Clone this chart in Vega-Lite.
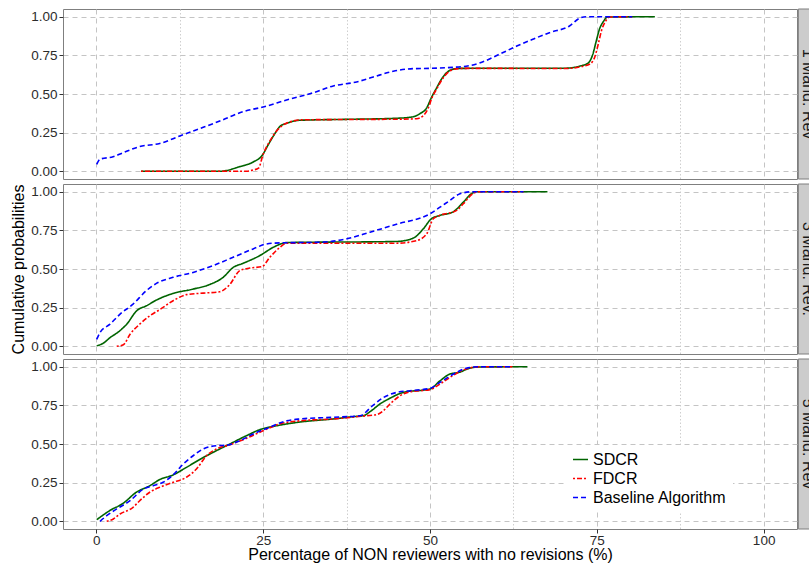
{
  "$schema": "https://vega.github.io/schema/vega-lite/v6.json",
  "padding": {"left": 10, "top": 8, "right": 0, "bottom": 0},
  "background": "white",
  "config": {
    "font": "Liberation Sans",
    "view": {"stroke": "#7F7F7F", "strokeWidth": 1},
    "axis": {"labelFont": "Liberation Sans", "titleFont": "Liberation Sans", "titleFontWeight": "normal", "labelColor": "#2b2b2b", "titleColor": "#000000"}
  },
  "spacing": 3,
  "data": {"values": [
    {"p":"1","m":"SDCR","x":6.7,"y":0},{"p":"1","m":"SDCR","x":18.5,"y":0},{"p":"1","m":"SDCR","x":21.5,"y":0.03},{"p":"1","m":"SDCR","x":23.5,"y":0.06},{"p":"1","m":"SDCR","x":24.8,"y":0.10},{"p":"1","m":"SDCR","x":25.8,"y":0.175},{"p":"1","m":"SDCR","x":26.7,"y":0.24},{"p":"1","m":"SDCR","x":27.5,"y":0.29},{"p":"1","m":"SDCR","x":28.5,"y":0.31},{"p":"1","m":"SDCR","x":30.5,"y":0.33},{"p":"1","m":"SDCR","x":37.5,"y":0.336},{"p":"1","m":"SDCR","x":45,"y":0.343},{"p":"1","m":"SDCR","x":47.5,"y":0.353},{"p":"1","m":"SDCR","x":48.5,"y":0.373},{"p":"1","m":"SDCR","x":49.5,"y":0.41},{"p":"1","m":"SDCR","x":50.2,"y":0.476},{"p":"1","m":"SDCR","x":51,"y":0.54},{"p":"1","m":"SDCR","x":51.7,"y":0.595},{"p":"1","m":"SDCR","x":52.5,"y":0.638},{"p":"1","m":"SDCR","x":53.4,"y":0.66},{"p":"1","m":"SDCR","x":54.4,"y":0.666},{"p":"1","m":"SDCR","x":70.4,"y":0.667},{"p":"1","m":"SDCR","x":72.4,"y":0.68},{"p":"1","m":"SDCR","x":73.7,"y":0.70},{"p":"1","m":"SDCR","x":74.4,"y":0.757},{"p":"1","m":"SDCR","x":74.9,"y":0.84},{"p":"1","m":"SDCR","x":75.4,"y":0.92},{"p":"1","m":"SDCR","x":76,"y":0.97},{"p":"1","m":"SDCR","x":76.6,"y":0.998},{"p":"1","m":"SDCR","x":83.7,"y":1.0},
    {"p":"1","m":"FDCR","x":6.7,"y":0},{"p":"1","m":"FDCR","x":22.5,"y":0},{"p":"1","m":"FDCR","x":23.5,"y":0.008},{"p":"1","m":"FDCR","x":24.3,"y":0.02},{"p":"1","m":"FDCR","x":25,"y":0.11},{"p":"1","m":"FDCR","x":26,"y":0.196},{"p":"1","m":"FDCR","x":27,"y":0.26},{"p":"1","m":"FDCR","x":28,"y":0.30},{"p":"1","m":"FDCR","x":29.5,"y":0.325},{"p":"1","m":"FDCR","x":31,"y":0.333},{"p":"1","m":"FDCR","x":37.5,"y":0.335},{"p":"1","m":"FDCR","x":45,"y":0.337},{"p":"1","m":"FDCR","x":48,"y":0.34},{"p":"1","m":"FDCR","x":49,"y":0.36},{"p":"1","m":"FDCR","x":49.7,"y":0.405},{"p":"1","m":"FDCR","x":50.3,"y":0.476},{"p":"1","m":"FDCR","x":51.1,"y":0.54},{"p":"1","m":"FDCR","x":51.9,"y":0.6},{"p":"1","m":"FDCR","x":52.7,"y":0.64},{"p":"1","m":"FDCR","x":53.6,"y":0.66},{"p":"1","m":"FDCR","x":55,"y":0.666},{"p":"1","m":"FDCR","x":70.4,"y":0.665},{"p":"1","m":"FDCR","x":72.4,"y":0.675},{"p":"1","m":"FDCR","x":74,"y":0.695},{"p":"1","m":"FDCR","x":74.7,"y":0.74},{"p":"1","m":"FDCR","x":75.2,"y":0.82},{"p":"1","m":"FDCR","x":75.7,"y":0.91},{"p":"1","m":"FDCR","x":76.3,"y":0.97},{"p":"1","m":"FDCR","x":76.9,"y":0.998},{"p":"1","m":"FDCR","x":80.3,"y":1.0},
    {"p":"1","m":"Baseline Algorithm","x":0.05,"y":0.045},{"p":"1","m":"Baseline Algorithm","x":0.55,"y":0.078},{"p":"1","m":"Baseline Algorithm","x":2.5,"y":0.094},{"p":"1","m":"Baseline Algorithm","x":4,"y":0.12},{"p":"1","m":"Baseline Algorithm","x":6.5,"y":0.16},{"p":"1","m":"Baseline Algorithm","x":9.5,"y":0.18},{"p":"1","m":"Baseline Algorithm","x":12.5,"y":0.228},{"p":"1","m":"Baseline Algorithm","x":15.5,"y":0.276},{"p":"1","m":"Baseline Algorithm","x":18.5,"y":0.325},{"p":"1","m":"Baseline Algorithm","x":22,"y":0.386},{"p":"1","m":"Baseline Algorithm","x":25,"y":0.416},{"p":"1","m":"Baseline Algorithm","x":28.5,"y":0.461},{"p":"1","m":"Baseline Algorithm","x":32.5,"y":0.508},{"p":"1","m":"Baseline Algorithm","x":35.5,"y":0.552},{"p":"1","m":"Baseline Algorithm","x":39,"y":0.578},{"p":"1","m":"Baseline Algorithm","x":41.5,"y":0.61},{"p":"1","m":"Baseline Algorithm","x":44.5,"y":0.647},{"p":"1","m":"Baseline Algorithm","x":47.5,"y":0.664},{"p":"1","m":"Baseline Algorithm","x":50,"y":0.666},{"p":"1","m":"Baseline Algorithm","x":55.4,"y":0.68},{"p":"1","m":"Baseline Algorithm","x":57.4,"y":0.70},{"p":"1","m":"Baseline Algorithm","x":60.4,"y":0.757},{"p":"1","m":"Baseline Algorithm","x":63,"y":0.81},{"p":"1","m":"Baseline Algorithm","x":65.4,"y":0.854},{"p":"1","m":"Baseline Algorithm","x":67.9,"y":0.897},{"p":"1","m":"Baseline Algorithm","x":70.9,"y":0.94},{"p":"1","m":"Baseline Algorithm","x":72.4,"y":0.99},{"p":"1","m":"Baseline Algorithm","x":73.4,"y":1.0},{"p":"1","m":"Baseline Algorithm","x":80.3,"y":1.0},
    {"p":"3","m":"SDCR","x":0.05,"y":0.003},{"p":"3","m":"SDCR","x":1.05,"y":0.02},{"p":"3","m":"SDCR","x":2.05,"y":0.056},{"p":"3","m":"SDCR","x":3.3,"y":0.093},{"p":"3","m":"SDCR","x":4.55,"y":0.143},{"p":"3","m":"SDCR","x":6.05,"y":0.23},{"p":"3","m":"SDCR","x":7.5,"y":0.262},{"p":"3","m":"SDCR","x":9.05,"y":0.30},{"p":"3","m":"SDCR","x":11.5,"y":0.342},{"p":"3","m":"SDCR","x":14.5,"y":0.37},{"p":"3","m":"SDCR","x":17,"y":0.40},{"p":"3","m":"SDCR","x":19,"y":0.446},{"p":"3","m":"SDCR","x":20.5,"y":0.51},{"p":"3","m":"SDCR","x":22,"y":0.537},{"p":"3","m":"SDCR","x":24.5,"y":0.587},{"p":"3","m":"SDCR","x":26.5,"y":0.64},{"p":"3","m":"SDCR","x":28,"y":0.667},{"p":"3","m":"SDCR","x":28.5,"y":0.671},{"p":"3","m":"SDCR","x":45,"y":0.678},{"p":"3","m":"SDCR","x":47.5,"y":0.70},{"p":"3","m":"SDCR","x":49,"y":0.76},{"p":"3","m":"SDCR","x":50.2,"y":0.825},{"p":"3","m":"SDCR","x":51.5,"y":0.847},{"p":"3","m":"SDCR","x":53.4,"y":0.868},{"p":"3","m":"SDCR","x":55,"y":0.933},{"p":"3","m":"SDCR","x":56.2,"y":0.987},{"p":"3","m":"SDCR","x":57,"y":1.0},{"p":"3","m":"SDCR","x":67.6,"y":1.0},
    {"p":"3","m":"FDCR","x":3.05,"y":0},{"p":"3","m":"FDCR","x":4.05,"y":0.01},{"p":"3","m":"FDCR","x":5.05,"y":0.078},{"p":"3","m":"FDCR","x":6.5,"y":0.143},{"p":"3","m":"FDCR","x":8,"y":0.197},{"p":"3","m":"FDCR","x":9.6,"y":0.24},{"p":"3","m":"FDCR","x":11.5,"y":0.295},{"p":"3","m":"FDCR","x":13.5,"y":0.334},{"p":"3","m":"FDCR","x":16,"y":0.344},{"p":"3","m":"FDCR","x":18.5,"y":0.353},{"p":"3","m":"FDCR","x":20,"y":0.40},{"p":"3","m":"FDCR","x":21.5,"y":0.49},{"p":"3","m":"FDCR","x":23,"y":0.506},{"p":"3","m":"FDCR","x":24.8,"y":0.515},{"p":"3","m":"FDCR","x":26,"y":0.576},{"p":"3","m":"FDCR","x":27.5,"y":0.64},{"p":"3","m":"FDCR","x":28.5,"y":0.667},{"p":"3","m":"FDCR","x":45,"y":0.667},{"p":"3","m":"FDCR","x":48,"y":0.684},{"p":"3","m":"FDCR","x":49.5,"y":0.727},{"p":"3","m":"FDCR","x":50.5,"y":0.825},{"p":"3","m":"FDCR","x":51.5,"y":0.847},{"p":"3","m":"FDCR","x":54,"y":0.879},{"p":"3","m":"FDCR","x":55,"y":0.922},{"p":"3","m":"FDCR","x":56.4,"y":0.987},{"p":"3","m":"FDCR","x":57.2,"y":1.0},{"p":"3","m":"FDCR","x":64,"y":1.0},
    {"p":"3","m":"Baseline Algorithm","x":0.05,"y":0.045},{"p":"3","m":"Baseline Algorithm","x":0.55,"y":0.089},{"p":"3","m":"Baseline Algorithm","x":2.05,"y":0.143},{"p":"3","m":"Baseline Algorithm","x":3.55,"y":0.208},{"p":"3","m":"Baseline Algorithm","x":5.5,"y":0.273},{"p":"3","m":"Baseline Algorithm","x":7.5,"y":0.36},{"p":"3","m":"Baseline Algorithm","x":9,"y":0.407},{"p":"3","m":"Baseline Algorithm","x":11.5,"y":0.446},{"p":"3","m":"Baseline Algorithm","x":14.5,"y":0.478},{"p":"3","m":"Baseline Algorithm","x":17.5,"y":0.522},{"p":"3","m":"Baseline Algorithm","x":20.5,"y":0.576},{"p":"3","m":"Baseline Algorithm","x":23.5,"y":0.63},{"p":"3","m":"Baseline Algorithm","x":25.5,"y":0.662},{"p":"3","m":"Baseline Algorithm","x":27.5,"y":0.669},{"p":"3","m":"Baseline Algorithm","x":33.5,"y":0.673},{"p":"3","m":"Baseline Algorithm","x":37.5,"y":0.695},{"p":"3","m":"Baseline Algorithm","x":41,"y":0.738},{"p":"3","m":"Baseline Algorithm","x":45,"y":0.79},{"p":"3","m":"Baseline Algorithm","x":50,"y":0.857},{"p":"3","m":"Baseline Algorithm","x":51.5,"y":0.90},{"p":"3","m":"Baseline Algorithm","x":53,"y":0.944},{"p":"3","m":"Baseline Algorithm","x":54.5,"y":0.987},{"p":"3","m":"Baseline Algorithm","x":56.4,"y":1.0},{"p":"3","m":"Baseline Algorithm","x":64,"y":1.0},
    {"p":"5","m":"SDCR","x":0.05,"y":0.01},{"p":"5","m":"SDCR","x":2,"y":0.069},{"p":"5","m":"SDCR","x":4,"y":0.116},{"p":"5","m":"SDCR","x":6,"y":0.188},{"p":"5","m":"SDCR","x":8,"y":0.23},{"p":"5","m":"SDCR","x":9.5,"y":0.27},{"p":"5","m":"SDCR","x":11.5,"y":0.30},{"p":"5","m":"SDCR","x":13.5,"y":0.349},{"p":"5","m":"SDCR","x":15.5,"y":0.40},{"p":"5","m":"SDCR","x":17.5,"y":0.446},{"p":"5","m":"SDCR","x":20,"y":0.50},{"p":"5","m":"SDCR","x":22.5,"y":0.554},{"p":"5","m":"SDCR","x":24.5,"y":0.593},{"p":"5","m":"SDCR","x":27,"y":0.618},{"p":"5","m":"SDCR","x":30.5,"y":0.642},{"p":"5","m":"SDCR","x":35.5,"y":0.662},{"p":"5","m":"SDCR","x":38.5,"y":0.677},{"p":"5","m":"SDCR","x":40,"y":0.683},{"p":"5","m":"SDCR","x":41.2,"y":0.715},{"p":"5","m":"SDCR","x":42.5,"y":0.759},{"p":"5","m":"SDCR","x":44,"y":0.796},{"p":"5","m":"SDCR","x":46,"y":0.834},{"p":"5","m":"SDCR","x":50,"y":0.856},{"p":"5","m":"SDCR","x":51.5,"y":0.909},{"p":"5","m":"SDCR","x":53,"y":0.953},{"p":"5","m":"SDCR","x":54.4,"y":0.964},{"p":"5","m":"SDCR","x":55.9,"y":0.99},{"p":"5","m":"SDCR","x":57.4,"y":0.998},{"p":"5","m":"SDCR","x":64.6,"y":1.0},
    {"p":"5","m":"FDCR","x":1.55,"y":0},{"p":"5","m":"FDCR","x":2.55,"y":0.015},{"p":"5","m":"FDCR","x":3.55,"y":0.047},{"p":"5","m":"FDCR","x":5.5,"y":0.09},{"p":"5","m":"FDCR","x":6.5,"y":0.133},{"p":"5","m":"FDCR","x":8,"y":0.188},{"p":"5","m":"FDCR","x":9.5,"y":0.22},{"p":"5","m":"FDCR","x":11.5,"y":0.252},{"p":"5","m":"FDCR","x":13.5,"y":0.285},{"p":"5","m":"FDCR","x":15,"y":0.338},{"p":"5","m":"FDCR","x":16.5,"y":0.424},{"p":"5","m":"FDCR","x":18,"y":0.468},{"p":"5","m":"FDCR","x":20,"y":0.495},{"p":"5","m":"FDCR","x":22.5,"y":0.537},{"p":"5","m":"FDCR","x":25,"y":0.586},{"p":"5","m":"FDCR","x":27.5,"y":0.63},{"p":"5","m":"FDCR","x":30.5,"y":0.65},{"p":"5","m":"FDCR","x":35.5,"y":0.662},{"p":"5","m":"FDCR","x":40.5,"y":0.683},{"p":"5","m":"FDCR","x":42,"y":0.69},{"p":"5","m":"FDCR","x":43,"y":0.715},{"p":"5","m":"FDCR","x":44,"y":0.759},{"p":"5","m":"FDCR","x":45.5,"y":0.812},{"p":"5","m":"FDCR","x":47,"y":0.838},{"p":"5","m":"FDCR","x":50,"y":0.852},{"p":"5","m":"FDCR","x":51.5,"y":0.888},{"p":"5","m":"FDCR","x":53.4,"y":0.942},{"p":"5","m":"FDCR","x":55,"y":0.98},{"p":"5","m":"FDCR","x":56.4,"y":0.996},{"p":"5","m":"FDCR","x":57.5,"y":1.0},{"p":"5","m":"FDCR","x":62.4,"y":1.0},
    {"p":"5","m":"Baseline Algorithm","x":0.55,"y":0},{"p":"5","m":"Baseline Algorithm","x":1.55,"y":0.036},{"p":"5","m":"Baseline Algorithm","x":3.05,"y":0.08},{"p":"5","m":"Baseline Algorithm","x":5.05,"y":0.133},{"p":"5","m":"Baseline Algorithm","x":7.05,"y":0.209},{"p":"5","m":"Baseline Algorithm","x":8.5,"y":0.23},{"p":"5","m":"Baseline Algorithm","x":10,"y":0.252},{"p":"5","m":"Baseline Algorithm","x":11.5,"y":0.30},{"p":"5","m":"Baseline Algorithm","x":13,"y":0.37},{"p":"5","m":"Baseline Algorithm","x":14.5,"y":0.424},{"p":"5","m":"Baseline Algorithm","x":16,"y":0.468},{"p":"5","m":"Baseline Algorithm","x":18,"y":0.489},{"p":"5","m":"Baseline Algorithm","x":19.5,"y":0.492},{"p":"5","m":"Baseline Algorithm","x":21.5,"y":0.521},{"p":"5","m":"Baseline Algorithm","x":23.5,"y":0.565},{"p":"5","m":"Baseline Algorithm","x":25.5,"y":0.60},{"p":"5","m":"Baseline Algorithm","x":28.5,"y":0.65},{"p":"5","m":"Baseline Algorithm","x":30.5,"y":0.662},{"p":"5","m":"Baseline Algorithm","x":35.5,"y":0.673},{"p":"5","m":"Baseline Algorithm","x":39.5,"y":0.683},{"p":"5","m":"Baseline Algorithm","x":41.5,"y":0.752},{"p":"5","m":"Baseline Algorithm","x":43,"y":0.80},{"p":"5","m":"Baseline Algorithm","x":45,"y":0.834},{"p":"5","m":"Baseline Algorithm","x":47,"y":0.845},{"p":"5","m":"Baseline Algorithm","x":50,"y":0.86},{"p":"5","m":"Baseline Algorithm","x":51.5,"y":0.899},{"p":"5","m":"Baseline Algorithm","x":54,"y":0.964},{"p":"5","m":"Baseline Algorithm","x":55.4,"y":0.99},{"p":"5","m":"Baseline Algorithm","x":57.4,"y":1.0},{"p":"5","m":"Baseline Algorithm","x":62.4,"y":1.0}
  ]},
  "vconcat": [
    {
      "width": 734, "height": 170,
      "transform": [{"filter": "datum.p === '1'"}],
      "layer": [
        {
          "mark": {"type": "line", "strokeWidth": 1.6, "interpolate": "monotone"},
          "encoding": {
            "x": {"field": "x", "type": "quantitative", "scale": {"domain": [-5, 105], "nice": false, "zero": false},
              "axis": {"values": [0,12.5,25,37.5,50,62.5,75,87.5,100], "labels": false, "ticks": false, "domain": false, "title": null,
                "gridColor": {"condition": {"test": "datum.value % 25 === 0", "value": "#C4C4C4"}, "value": "#CFCFCF"},
                "gridDash": {"condition": {"test": "datum.value % 25 === 0", "value": [5, 4]}, "value": [1.5, 2]}}},
            "y": {"field": "y", "type": "quantitative", "scale": {"domain": [-0.05, 1.05], "nice": false, "zero": false},
              "axis": {"values": [0,0.125,0.25,0.375,0.5,0.625,0.75,0.875,1], "format": ".2f", "title": null, "domain": false,
                "labelExpr": "(datum.value * 4) % 1 === 0 ? datum.label : ''", "labelFontSize": 13.5, "labelPadding": 2,
                "tickSize": 4, "tickColor": "#333333", "tickOpacity": {"condition": {"test": "(datum.value * 4) % 1 === 0", "value": 1}, "value": 0},
                "gridColor": {"condition": {"test": "(datum.value * 4) % 1 === 0", "value": "#C4C4C4"}, "value": "#CFCFCF"},
                "gridDash": {"condition": {"test": "(datum.value * 4) % 1 === 0", "value": [5, 4]}, "value": [1.5, 2]}}},
            "color": {"field": "m", "type": "nominal", "sort": ["SDCR", "FDCR", "Baseline Algorithm"],
              "scale": {"domain": ["SDCR", "FDCR", "Baseline Algorithm"], "range": ["#006400", "#FF0000", "#0000FF"]},
              "legend": {"title": null, "orient": "none", "legendX": 503, "legendY": 436, "symbolType": "stroke", "symbolSize": 225, "symbolStrokeWidth": 1.5,
                "labelFontSize": 16, "labelFont": "Liberation Sans", "labelColor": "#000000", "fillColor": "white", "padding": 6, "rowPadding": 2, "labelOffset": 4}},
            "strokeDash": {"field": "m", "type": "nominal", "sort": ["SDCR", "FDCR", "Baseline Algorithm"],
              "scale": {"domain": ["SDCR", "FDCR", "Baseline Algorithm"], "range": [[1, 0], [2, 2, 5, 2], [5, 3]]},
              "legend": {"title": null, "orient": "none", "legendX": 503, "legendY": 436, "symbolType": "stroke", "symbolSize": 225, "symbolStrokeWidth": 1.5,
                "labelFontSize": 16, "labelFont": "Liberation Sans", "labelColor": "#000000", "fillColor": "white", "padding": 6, "rowPadding": 2, "labelOffset": 4}}
          }
        },
        {
          "data": {"values": [{"label": "1 Mand. Rev"}]},
          "mark": {"type": "rect", "fill": "#CCCCCC", "stroke": "#7F7F7F", "strokeWidth": 1},
          "encoding": {"x": {"datum": 105.2}, "x2": {"datum": 110}, "y": {"datum": -0.05}, "y2": {"datum": 1.05}}
        },
        {
          "data": {"values": [{"label": "1 Mand. Rev"}]},
          "mark": {"type": "text", "angle": 90, "align": "center", "baseline": "middle", "fontSize": 16, "font": "Liberation Sans", "color": "#1A1A1A"},
          "encoding": {"x": {"datum": 106.6}, "y": {"datum": 0.5}, "text": {"field": "label"}}
        }
      ]
    },
    {
      "width": 734, "height": 170,
      "transform": [{"filter": "datum.p === '3'"}],
      "layer": [
        {
          "mark": {"type": "line", "strokeWidth": 1.6, "interpolate": "monotone"},
          "encoding": {
            "x": {"field": "x", "type": "quantitative", "scale": {"domain": [-5, 105], "nice": false, "zero": false},
              "axis": {"values": [0,12.5,25,37.5,50,62.5,75,87.5,100], "labels": false, "ticks": false, "domain": false, "title": null,
                "gridColor": {"condition": {"test": "datum.value % 25 === 0", "value": "#C4C4C4"}, "value": "#CFCFCF"},
                "gridDash": {"condition": {"test": "datum.value % 25 === 0", "value": [5, 4]}, "value": [1.5, 2]}}},
            "y": {"field": "y", "type": "quantitative", "scale": {"domain": [-0.05, 1.05], "nice": false, "zero": false},
              "axis": {"values": [0,0.125,0.25,0.375,0.5,0.625,0.75,0.875,1], "format": ".2f", "title": "Cumulative probabilities", "titleFontSize": 16, "titlePadding": 4, "domain": false,
                "labelExpr": "(datum.value * 4) % 1 === 0 ? datum.label : ''", "labelFontSize": 13.5, "labelPadding": 2,
                "tickSize": 4, "tickColor": "#333333", "tickOpacity": {"condition": {"test": "(datum.value * 4) % 1 === 0", "value": 1}, "value": 0},
                "gridColor": {"condition": {"test": "(datum.value * 4) % 1 === 0", "value": "#C4C4C4"}, "value": "#CFCFCF"},
                "gridDash": {"condition": {"test": "(datum.value * 4) % 1 === 0", "value": [5, 4]}, "value": [1.5, 2]}}},
            "color": {"field": "m", "type": "nominal", "sort": ["SDCR", "FDCR", "Baseline Algorithm"],
              "scale": {"domain": ["SDCR", "FDCR", "Baseline Algorithm"], "range": ["#006400", "#FF0000", "#0000FF"]}},
            "strokeDash": {"field": "m", "type": "nominal", "sort": ["SDCR", "FDCR", "Baseline Algorithm"],
              "scale": {"domain": ["SDCR", "FDCR", "Baseline Algorithm"], "range": [[1, 0], [2, 2, 5, 2], [5, 3]]}}
          }
        },
        {
          "data": {"values": [{"label": "3 Mand. Rev."}]},
          "mark": {"type": "rect", "fill": "#CCCCCC", "stroke": "#7F7F7F", "strokeWidth": 1},
          "encoding": {"x": {"datum": 105.2}, "x2": {"datum": 110}, "y": {"datum": -0.05}, "y2": {"datum": 1.05}}
        },
        {
          "data": {"values": [{"label": "3 Mand. Rev."}]},
          "mark": {"type": "text", "angle": 90, "align": "center", "baseline": "middle", "fontSize": 16, "font": "Liberation Sans", "color": "#1A1A1A"},
          "encoding": {"x": {"datum": 106.6}, "y": {"datum": 0.5}, "text": {"field": "label"}}
        }
      ]
    },
    {
      "width": 734, "height": 170,
      "transform": [{"filter": "datum.p === '5'"}],
      "layer": [
        {
          "mark": {"type": "line", "strokeWidth": 1.6, "interpolate": "monotone"},
          "encoding": {
            "x": {"field": "x", "type": "quantitative", "scale": {"domain": [-5, 105], "nice": false, "zero": false},
              "axis": {"values": [0,12.5,25,37.5,50,62.5,75,87.5,100], "title": "Percentage of NON reviewers with no revisions (%)", "titleFontSize": 16, "titlePadding": 0, "domain": false,
                "labelExpr": "datum.value % 25 === 0 ? datum.label : ''", "labelFontSize": 13.5, "labelPadding": 0, "labelFlush": false,
                "tickSize": 4, "tickColor": "#333333", "tickOpacity": {"condition": {"test": "datum.value % 25 === 0", "value": 1}, "value": 0},
                "gridColor": {"condition": {"test": "datum.value % 25 === 0", "value": "#C4C4C4"}, "value": "#CFCFCF"},
                "gridDash": {"condition": {"test": "datum.value % 25 === 0", "value": [5, 4]}, "value": [1.5, 2]}}},
            "y": {"field": "y", "type": "quantitative", "scale": {"domain": [-0.05, 1.05], "nice": false, "zero": false},
              "axis": {"values": [0,0.125,0.25,0.375,0.5,0.625,0.75,0.875,1], "format": ".2f", "title": null, "domain": false,
                "labelExpr": "(datum.value * 4) % 1 === 0 ? datum.label : ''", "labelFontSize": 13.5, "labelPadding": 2,
                "tickSize": 4, "tickColor": "#333333", "tickOpacity": {"condition": {"test": "(datum.value * 4) % 1 === 0", "value": 1}, "value": 0},
                "gridColor": {"condition": {"test": "(datum.value * 4) % 1 === 0", "value": "#C4C4C4"}, "value": "#CFCFCF"},
                "gridDash": {"condition": {"test": "(datum.value * 4) % 1 === 0", "value": [5, 4]}, "value": [1.5, 2]}}},
            "color": {"field": "m", "type": "nominal", "sort": ["SDCR", "FDCR", "Baseline Algorithm"],
              "scale": {"domain": ["SDCR", "FDCR", "Baseline Algorithm"], "range": ["#006400", "#FF0000", "#0000FF"]}},
            "strokeDash": {"field": "m", "type": "nominal", "sort": ["SDCR", "FDCR", "Baseline Algorithm"],
              "scale": {"domain": ["SDCR", "FDCR", "Baseline Algorithm"], "range": [[1, 0], [2, 2, 5, 2], [5, 3]]}}
          }
        },
        {
          "data": {"values": [{"label": "5 Mand. Rev"}]},
          "mark": {"type": "rect", "fill": "#CCCCCC", "stroke": "#7F7F7F", "strokeWidth": 1},
          "encoding": {"x": {"datum": 105.2}, "x2": {"datum": 110}, "y": {"datum": -0.05}, "y2": {"datum": 1.05}}
        },
        {
          "data": {"values": [{"label": "5 Mand. Rev"}]},
          "mark": {"type": "text", "angle": 90, "align": "center", "baseline": "middle", "fontSize": 16, "font": "Liberation Sans", "color": "#1A1A1A"},
          "encoding": {"x": {"datum": 106.6}, "y": {"datum": 0.5}, "text": {"field": "label"}}
        }
      ]
    }
  ]
}
